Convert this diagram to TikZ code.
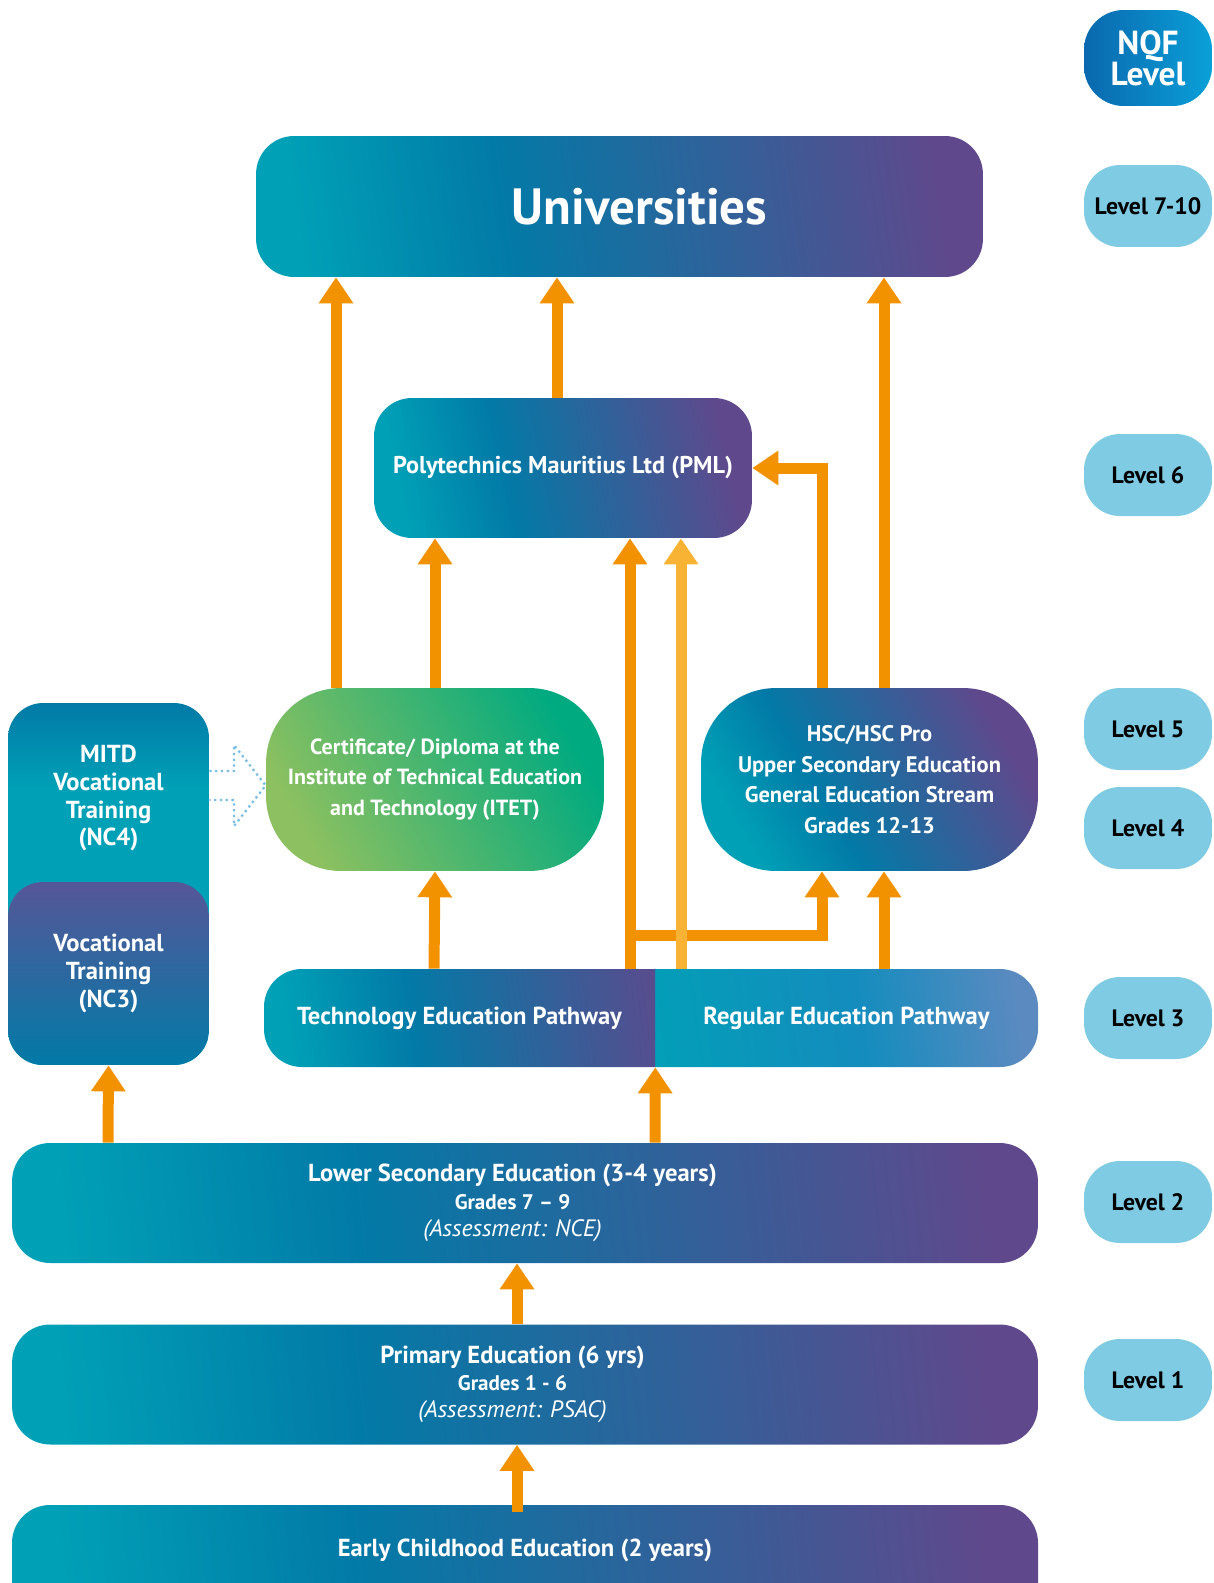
\documentclass[tikz,border=0pt]{standalone}
\usepackage{fontspec}
\setmainfont{PT Sans}
\usetikzlibrary{arrows.meta}

\definecolor{eduteal}{RGB}{0,161,183}
\definecolor{edublue}{RGB}{2,122,167}
\definecolor{edupurple}{RGB}{96,72,140}
\definecolor{levelblue}{RGB}{126,203,227}
\definecolor{nqfdark}{RGB}{10,104,174}
\definecolor{nqflight}{RGB}{10,160,216}
\definecolor{arroworange}{RGB}{243,146,0}
\definecolor{arrowlight}{RGB}{248,178,52}
\definecolor{itetlight}{RGB}{140,192,96}
\definecolor{itetgreen}{RGB}{0,170,128}
\definecolor{regmid}{RGB}{20,140,190}
\definecolor{regright}{RGB}{90,138,192}
\definecolor{nctop}{RGB}{86,86,152}
\definecolor{dotblue}{RGB}{120,190,230}

\pgfdeclarehorizontalshading{eduband}{100bp}{color(0bp)=(eduteal); color(25bp)=(eduteal); color(41bp)=(edublue); color(75bp)=(edupurple); color(100bp)=(edupurple)}
\pgfdeclarehorizontalshading{itetband}{100bp}{color(0bp)=(itetlight); color(25bp)=(itetlight); color(75bp)=(itetgreen); color(100bp)=(itetgreen)}
\pgfdeclarehorizontalshading{regband}{100bp}{color(0bp)=(eduteal); color(25bp)=(eduteal); color(55bp)=(regmid); color(75bp)=(regright); color(100bp)=(regright)}
\pgfdeclareverticalshading{mitdband}{100bp}{color(0bp)=(eduteal); color(25bp)=(eduteal); color(63bp)=(eduteal); color(75bp)=(edublue); color(100bp)=(edublue)}

\tikzstyle{edubox} = [rectangle, rounded corners=0.76cm, shade, shading=eduband, shading angle=8, text=white, font=\fontsize{14}{15.5}\selectfont\bfseries, align=center, inner sep=0pt]
\tikzstyle{roundbox} = [edubox, rounded corners=1.5cm, minimum width=6.76cm, minimum height=3.66cm, font=\fontsize{12.5}{17.6}\selectfont\bfseries]
\tikzstyle{levelbox} = [rectangle, rounded corners=0.72cm, minimum width=2.56cm, minimum height=1.64cm, fill=levelblue, font=\fontsize{13.5}{15}\selectfont\bfseries, inner sep=0pt]
\tikzstyle{vocbox} = [rectangle, rounded corners=0.7cm, minimum width=4.02cm, text=white, font=\fontsize{14}{15.9}\selectfont\bfseries, align=center, inner sep=0pt]
\tikzstyle{boxtext} = [text=white, font=\fontsize{14}{15.5}\selectfont\bfseries, align=center, inner sep=0pt]
\tikzstyle{arrow} = [draw=arroworange, line width=0.22cm, -{Triangle[width=0.66cm, length=0.52cm]}]
\tikzstyle{lightarrow} = [arrow, draw=arrowlight]
\tikzstyle{dotarrow} = [draw=dotblue, dotted, line width=1.3pt]

\begin{document}
\begin{tikzpicture}[x=0.02cm, y=-0.02cm]
\useasboundingbox (0,0) rectangle (1214,1583);
\clip (0,0) rectangle (1214,1583);

% NQF levels
\node (nqf) [levelbox, left color=nqfdark, right color=nqflight, text=white, rounded corners=0.8cm, minimum height=1.92cm, align=center, font=\fontsize{19}{17.5}\selectfont\bfseries] at (1148,58) {NQF\\Level};
\node (lvlten) [levelbox] at (1148,206) {Level 7-10};
\node (lvlsix) [levelbox] at (1148,475) {Level 6};
\node (lvlfive) [levelbox] at (1148,729) {Level 5};
\node (lvlfour) [levelbox] at (1148,828) {Level 4};
\node (lvlthree) [levelbox] at (1148,1018) {Level 3};
\node (lvltwo) [levelbox] at (1148,1202) {Level 2};
\node (lvlone) [levelbox] at (1148,1380) {Level 1};

% tertiary
\node (univ) [edubox, minimum width=14.54cm, minimum height=2.82cm, font=\fontsize{29}{30}\selectfont\bfseries] at (619.5,206.5) {\hspace*{0.8cm}Universities};
\node (pml) [edubox, minimum width=7.56cm, minimum height=2.8cm, shading angle=12, font=\fontsize{13.8}{15}\selectfont\bfseries] at (563,468) {Polytechnics Mauritius Ltd (PML)};
\node (itet) [roundbox, shading=itetband, shading angle=30] at (435,779.5) {Certificate/ Diploma at the\\Institute of Technical Education\\and Technology (ITET)};
\node (hsc) [roundbox, minimum width=6.74cm, shading angle=30, font=\fontsize{12.8}{17.4}\selectfont\bfseries] at (869.5,779.5) {HSC/HSC Pro\\Upper Secondary Education\\General Education Stream\\Grades 12-13};

% vocational column
\node (mitd) [vocbox, minimum height=7.24cm, shade, shading=mitdband] at (108.5,884) {};
\node (mitdlabel) [boxtext, font=\fontsize{14}{15.9}\selectfont\bfseries] at (108.5,798) {MITD\\Vocational\\Training\\(NC4)};
\node (ncthree) [vocbox, minimum height=3.66cm, top color=nctop, bottom color=edublue] at (108.5,973.5) {Vocational\\Training\\(NC3)};

% pathways
\begin{scope}
\clip (655,960) rectangle (1100,1080);
\shade [shading=regband, shading angle=8, rounded corners=0.76cm] (600,969) rectangle (1038,1067);
\end{scope}
\begin{scope}
\clip (200,960) rectangle (655,1080);
\shade [shading=eduband, shading angle=8, rounded corners=0.76cm] (264,969) rectangle (700,1067);
\end{scope}
\node (tech) [boxtext, minimum width=7.82cm, minimum height=1.96cm] at (459.5,1018) {Technology Education Pathway};
\node (regular) [boxtext, minimum width=7.66cm, minimum height=1.96cm] at (846.5,1018) {Regular Education Pathway};

% school levels
\node (lowsec) [edubox, minimum width=20.52cm, minimum height=2.4cm, shading angle=6] at (525,1203) {\hspace*{-0.5cm}Lower Secondary Education (3-4 years)\\\hspace*{-0.5cm}{\fontsize{12}{15}\selectfont Grades 7 -- 9}\\\hspace*{-0.5cm}{\mdseries\itshape\fontsize{13.5}{15}\selectfont (Assessment: NCE)}};
\node (primary) [edubox, minimum width=20.52cm, minimum height=2.4cm, shading angle=6] at (525,1384.5) {\hspace*{-0.5cm}Primary Education (6 yrs)\\\hspace*{-0.5cm}{\fontsize{12}{15}\selectfont Grades 1 - 6}\\\hspace*{-0.5cm}{\mdseries\itshape\fontsize{13.5}{15}\selectfont (Assessment: PSAC)}};
\shade [shading=eduband, shading angle=6, rounded corners=0.76cm] (12,1505) rectangle (1038,1625);
\node (early) [boxtext, minimum width=20.52cm, minimum height=1.52cm] at (525,1550) {Early Childhood Education (2 years)};

% arrows
\coordinate (fork) at (630,935);
\draw [arrow] (336,0 |- itet.north) -- (336,0 |- univ.south);
\draw [arrow] (557,0 |- pml.north) -- (557,0 |- univ.south);
\draw [arrow] (884,0 |- hsc.north) -- (884,0 |- univ.south);
\draw [arrow] (itet.north) -- (itet.north |- pml.south);
\draw [arrow] (822,0 |- hsc.north) |- (pml.east);
\draw [arrow] (630,0 |- tech.north) -- (630,0 |- pml.south);
\draw [arrow] (fork) -| (822,0 |- hsc.south);
\draw [lightarrow] (681,0 |- regular.north) -- (681,0 |- pml.south);
\draw [arrow] (884,0 |- regular.north) -- (884,0 |- hsc.south);
\draw [arrow] (434,0 |- tech.north) -- (itet.south);
\draw [arrow] (108,0 |- lowsec.north) -- (ncthree.south);
\draw [arrow] (655,0 |- lowsec.north) -- (tech.south east);
\draw [arrow] (517,0 |- primary.north) -- (517,0 |- lowsec.south);
\draw [arrow] (517,0 |- early.north) -- (517,0 |- primary.south);
\draw [dotarrow] (mitd.east |- 0,771) -- (234,771) -- (234,745) -- (itet.west |- 0,785.5) -- (234,826) -- (234,800) -- (mitd.east |- 0,800);
\end{tikzpicture}
\end{document}
